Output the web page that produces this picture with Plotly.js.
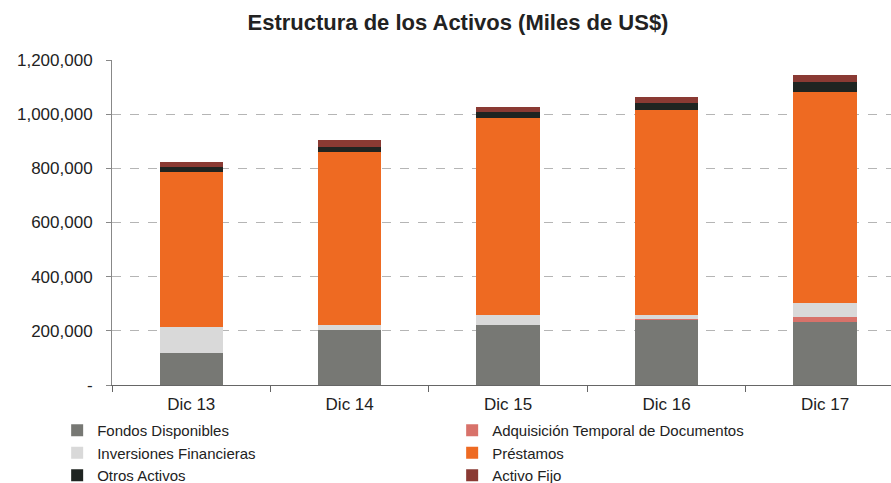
<!DOCTYPE html>
<html>
<head>
<meta charset="utf-8">
<script src="https://cdn.plot.ly/plotly-3.0.1.min.js"></script>
<style>html,body{margin:0;padding:0;background:#fff;}#chart{width:891px;height:483px;}</style>
</head>
<body>
<div id="chart"></div>
<script>
const categories = ["Dic 13", "Dic 14", "Dic 15", "Dic 16", "Dic 17"];
const fondosDisponibles = [119000, 203000, 221500, 240000, 234000];
const adquisicionTemporal = [0, 0, 0, 4000, 18500];
const inversionesFinancieras = [96000, 18000, 37000, 16000, 49000];
const prestamos = [572000, 640000, 726000, 754000, 781000];
const otrosActivos = [18500, 18500, 24500, 27000, 37000];
const activoFijo = [18500, 24000, 18500, 22000, 24500];
const yTickVals = [0, 200000, 400000, 600000, 800000, 1000000, 1200000];
const yTickText = ["-", "200,000", "400,000", "600,000", "800,000", "1,000,000", "1,200,000"];

const series = [
  {name: "Fondos Disponibles", y: fondosDisponibles, color: "#777874"},
  {name: "Adquisición Temporal de Documentos", y: adquisicionTemporal, color: "#d8726a"},
  {name: "Inversiones Financieras", y: inversionesFinancieras, color: "#d9d9d9"},
  {name: "Préstamos", y: prestamos, color: "#ee6a22"},
  {name: "Otros Activos", y: otrosActivos, color: "#1f2421"},
  {name: "Activo Fijo", y: activoFijo, color: "#8a3a33"}
];

const data = series.map(s => ({
  type: "bar",
  name: s.name,
  x: categories,
  y: s.y,
  marker: {color: s.color, line: {width: 0}},
  hoverinfo: "x+y+name"
}));

const layout = {
  width: 891, height: 483,
  margin: {l: 112, r: 0, t: 60, b: 98, autoexpand: false},
  paper_bgcolor: "#fff", plot_bgcolor: "#fff",
  font: {family: "Liberation Sans, Arial, sans-serif", size: 17, color: "#222"},
  title: {text: "<b>Estructura de los Activos (Miles de US$)</b>", x: 0.514, xanchor: "center", y: 0.953, yanchor: "middle",
          font: {family: "Liberation Sans, Arial, sans-serif", size: 22, color: "#222"}},
  barmode: "stack",
  bargap: 0.6,
  showlegend: true,
  legend: {orientation: "h", x: -0.0704, xanchor: "left", y: -0.089, yanchor: "top",
           traceorder: "normal", entrywidth: 350, entrywidthmode: "pixels",
           font: {size: 15, color: "#222"}, itemwidth: 30, tracegroupgap: 0},
  xaxis: {type: "category", range: [-0.5, 4.416], showgrid: false, showline: true, linecolor: "#666", linewidth: 1,
          ticks: "outside", tickson: "boundaries", ticklen: 6, tickcolor: "#666", ticklabelstandoff: 4,
          tickfont: {size: 17, color: "#222"}, fixedrange: true},
  yaxis: {range: [0, 1200000], tickvals: yTickVals, ticktext: yTickText, showgrid: true, gridcolor: "#b5b5b5", griddash: "dash", gridwidth: 1,
          showline: true, linecolor: "#888", linewidth: 1, ticks: "outside", ticklen: 5, tickcolor: "#888", ticklabelstandoff: 10,
          tickfont: {size: 17, color: "#222"}, zeroline: false, fixedrange: true}
};

Plotly.newPlot("chart", data, layout, {displayModeBar: false, staticPlot: true});
</script>
</body>
</html>
